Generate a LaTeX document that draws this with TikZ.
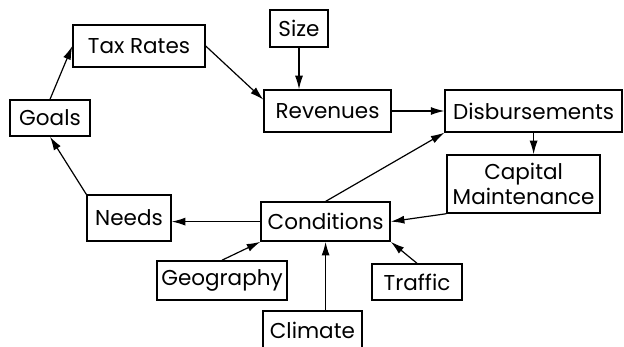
\documentclass[tikz,border=0pt]{standalone}
\usepackage{fontspec}
\setmainfont{Poppins}
\usetikzlibrary{calc,arrows.meta}

\tikzset{
  box/.style={draw, line width=0.35mm, inner sep=0pt, align=center, font=\fontsize{15.3}{18}\selectfont},
  arr/.style={-{Latex[length=3.4mm,width=2mm]}, line width=0.3mm}
}

\begin{document}
\begin{tikzpicture}
	%\draw[color=gray,step=1mm, help lines,opacity=0.3] (0mm,0mm) grid (156mm,86.5mm); %help grids
	\useasboundingbox (0mm,0mm) rectangle (156mm,86.5mm);
	\node[box, minimum width=33mm, minimum height=10.5mm] (tax) at (34.75mm,75mm) {Tax Rates};
	\node[box, minimum width=14.5mm, minimum height=9.25mm] (size) at (74.75mm,79.4mm) {Size};
	\node[box, minimum width=20mm, minimum height=9mm] (goals) at (12.5mm,57mm) {Goals};
	\node[box, minimum width=31.75mm, minimum height=10.5mm] (rev) at (81.9mm,58.75mm) {Revenues};
	\node[box, minimum width=44.25mm, minimum height=10.5mm] (disb) at (133.4mm,58.75mm) {Disbursements};
	\node[box, minimum width=38.25mm, minimum height=14.5mm] (cap) at (130.9mm,40.5mm) {Capital\\Maintenance};
	\node[box, minimum width=21mm, minimum height=11.5mm] (needs) at (32.25mm,32mm) {Needs};
	\node[box, minimum width=32.25mm, minimum height=9.75mm] (cond) at (81.4mm,31.1mm) {Conditions};
	\node[box, minimum width=32.5mm, minimum height=9.75mm] (geo) at (55.5mm,16.4mm) {Geography};
	\node[box, minimum width=22.5mm, minimum height=9mm] (traffic) at (104.25mm,16mm) {Traffic};
	\node[box, minimum width=24.75mm, minimum height=9.75mm] (climate) at (78.1mm,3.9mm) {Climate};

	\draw[arr] (goals.north) -- (tax.west);
	\draw[arr] (tax.east) -- (rev.170);
	\draw[arr] (size.south) -- (size.south |- rev.north);
	\draw[arr] (rev.east) -- (disb.west);
	\draw[arr] (disb.south) -- (disb.south |- cap.north);
	\draw[arr] (cap.south west) -- (cond.east);
	\draw[arr] (cond.north) -- (disb.south west);
	\draw[arr] (cond.west) -- (cond.west -| needs.east);
	\draw[arr] (needs.north west) -- (goals.south);
	\draw[arr] (geo.north) -- (cond.south west);
	\draw[arr] (traffic.north) -- (cond.south east);
	\draw[arr] (cond.south |- climate.north) -- (cond.south);
\end{tikzpicture}
\end{document}
